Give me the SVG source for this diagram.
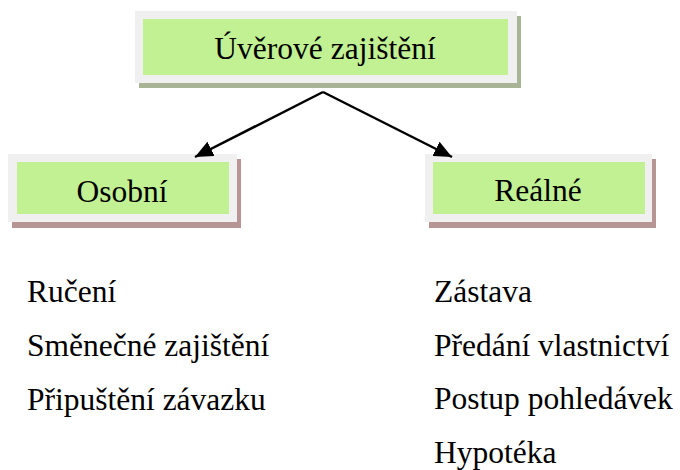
<svg xmlns="http://www.w3.org/2000/svg" width="680" height="470" viewBox="0 0 680 470">
<style>
text{font-family:'Liberation Serif','DejaVu Serif',serif;font-size:31.5px;fill:#000}
.c{text-anchor:middle}
.outer{fill:#f0f0f0}
.inner{fill:#c2f194}
.sh1{fill:#a9b396}
.sh2{fill:#b89595}
.con{stroke:#000;stroke-width:2.5;fill:none}
</style>
<defs>
<marker id="ah" markerUnits="userSpaceOnUse" markerWidth="20" markerHeight="16" refX="18" refY="8" orient="auto">
<path d="M0,0 L18,8 L0,16 Z" fill="#000"/>
</marker>
</defs>
<rect width="680" height="470" fill="#fff"/>
<g id="node-top">
<rect class="sh1" x="139" y="16" width="382" height="72"/>
<rect class="outer" x="135" y="11" width="382" height="72"/>
<rect class="inner" x="143" y="19" width="365" height="56"/>
<text class="c" x="325" y="59">Úvěrové zajištění</text>
</g>
<g id="node-osobni">
<rect class="sh2" x="12" y="159" width="229" height="69"/>
<rect class="outer" x="8" y="154" width="229" height="68"/>
<rect class="inner" x="17" y="162" width="212" height="52"/>
<text class="c" x="122" y="202">Osobní</text>
</g>
<g id="node-realne">
<rect class="sh2" x="429" y="159" width="227" height="69"/>
<rect class="outer" x="425" y="154" width="227" height="68"/>
<rect class="inner" x="433" y="162" width="212" height="52"/>
<text class="c" x="538" y="201">Reálné</text>
</g>
<g id="connectors">
<line class="con" x1="323" y1="92" x2="195" y2="157" marker-end="url(#ah)"/>
<line class="con" x1="323" y1="92" x2="452" y2="157" marker-end="url(#ah)"/>
</g>
<g id="list-osobni">
<text x="27" y="302">Ručení</text>
<text x="27" y="356">Směnečné zajištění</text>
<text x="27" y="410">Připuštění závazku</text>
</g>
<g id="list-realne">
<text x="434" y="302">Zástava</text>
<text x="434" y="356">Předání vlastnictví</text>
<text x="434" y="409">Postup pohledávek</text>
<text x="434" y="463">Hypotéka</text>
</g>
</svg>
